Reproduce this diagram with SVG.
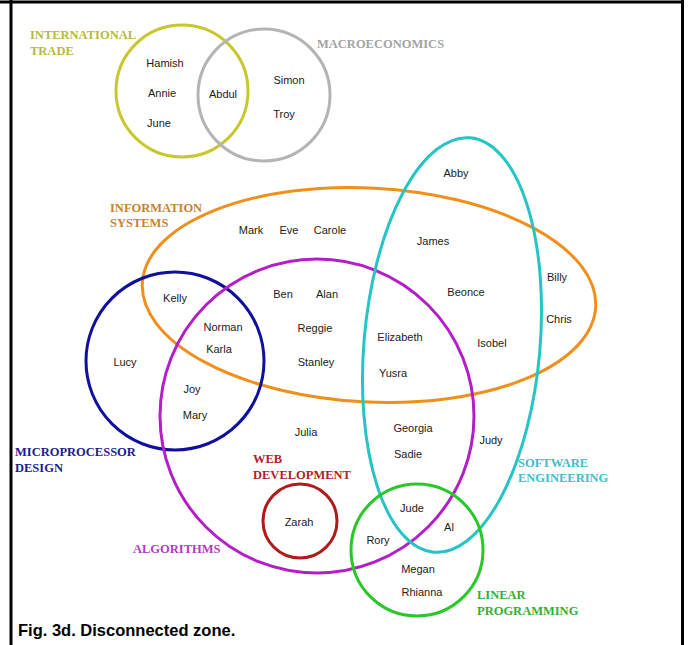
<svg xmlns="http://www.w3.org/2000/svg" width="691" height="645" viewBox="0 0 691 645">
  <style>
    .set { fill: none; stroke-width: 3; }
    .name { font-family: "Liberation Sans", Arial, sans-serif; font-size: 11px; fill: #1a1a1a; text-anchor: middle; }
    .title { font-family: "Liberation Serif", "Times New Roman", serif; font-size: 12.5px; font-weight: bold; }
    .caption { font-family: "Liberation Sans", Arial, sans-serif; font-size: 16.5px; font-weight: bold; fill: #000; }
    .frame { fill: none; stroke: #000; stroke-width: 3; }
  </style>
  <rect width="691" height="645" fill="#ffffff"/>

  <!-- page frame: top rule and side rules, open at the bottom -->
  <g id="frame">
    <line class="frame" x1="0" y1="2" x2="684" y2="2"/>
    <line class="frame" x1="11" y1="0" x2="11" y2="645"/>
    <line class="frame" x1="682.5" y1="0" x2="682.5" y2="645"/>
  </g>

  <!-- no connectors in this diagram -->
  <g id="connectors"/>

  <!-- set outlines -->
  <g id="international-trade">
    <circle class="set" cx="182" cy="91" r="66" stroke="#c8c82c"/>
    <text class="title" fill="#b9b93c"><tspan x="30" y="39">INTERNATIONAL</tspan><tspan x="30" y="55">TRADE</tspan></text>
  </g>
  <g id="macroeconomics">
    <circle class="set" cx="264" cy="95" r="66" stroke="#b4b4b4"/>
    <text class="title" fill="#a4a4a4" x="317" y="48">MACROECONOMICS</text>
  </g>
  <g id="information-systems">
    <ellipse class="set" cx="369" cy="295" rx="227" ry="107" transform="rotate(3 369 295)" stroke="#f0901c"/>
    <text class="title" fill="#c8822e"><tspan x="110" y="212">INFORMATION</tspan><tspan x="110" y="227">SYSTEMS</tspan></text>
  </g>
  <g id="microprocessor-design">
    <circle class="set" cx="175" cy="361" r="89" stroke="#10109c"/>
    <text class="title" fill="#1c1c90"><tspan x="15" y="456">MICROPROCESSOR</tspan><tspan x="15" y="472">DESIGN</tspan></text>
  </g>
  <g id="algorithms">
    <circle class="set" cx="317" cy="416" r="157" stroke="#b41ec8"/>
    <text class="title" fill="#b43cc0" x="133" y="553">ALGORITHMS</text>
  </g>
  <g id="software-engineering">
    <ellipse class="set" cx="452" cy="345" rx="88" ry="208" transform="rotate(5 452 345)" stroke="#26c4c4"/>
    <text class="title" fill="#3cc0c8"><tspan x="518" y="467">SOFTWARE</tspan><tspan x="518" y="482">ENGINEERING</tspan></text>
  </g>
  <g id="web-development">
    <circle class="set" cx="300" cy="521" r="37" stroke="#b01a1a"/>
    <text class="title" fill="#b02424"><tspan x="253" y="463">WEB</tspan><tspan x="253" y="479">DEVELOPMENT</tspan></text>
  </g>
  <g id="linear-programming">
    <circle class="set" cx="417" cy="550" r="66" stroke="#28c828"/>
    <text class="title" fill="#34b034"><tspan x="477" y="599">LINEAR</tspan><tspan x="477" y="615">PROGRAMMING</tspan></text>
  </g>

  <!-- members -->
  <g id="members">
    <text class="name" x="165" y="67">Hamish</text>
    <text class="name" x="162" y="97">Annie</text>
    <text class="name" x="159" y="127">June</text>
    <text class="name" x="223" y="98">Abdul</text>
    <text class="name" x="289" y="84">Simon</text>
    <text class="name" x="284" y="118">Troy</text>

    <text class="name" x="456" y="177">Abby</text>
    <text class="name" x="251" y="234">Mark</text>
    <text class="name" x="289" y="234">Eve</text>
    <text class="name" x="330" y="234">Carole</text>
    <text class="name" x="433" y="245">James</text>
    <text class="name" x="557" y="281">Billy</text>
    <text class="name" x="559" y="323">Chris</text>
    <text class="name" x="466" y="296">Beonce</text>
    <text class="name" x="492" y="347">Isobel</text>

    <text class="name" x="175" y="302">Kelly</text>
    <text class="name" x="283" y="298">Ben</text>
    <text class="name" x="327" y="298">Alan</text>
    <text class="name" x="223" y="331">Norman</text>
    <text class="name" x="219" y="353">Karla</text>
    <text class="name" x="315" y="332">Reggie</text>
    <text class="name" x="316" y="366">Stanley</text>
    <text class="name" x="400" y="341">Elizabeth</text>
    <text class="name" x="393" y="377">Yusra</text>

    <text class="name" x="125" y="366">Lucy</text>
    <text class="name" x="192" y="393">Joy</text>
    <text class="name" x="195" y="419">Mary</text>
    <text class="name" x="306" y="436">Julia</text>
    <text class="name" x="413" y="432">Georgia</text>
    <text class="name" x="408" y="458">Sadie</text>
    <text class="name" x="491" y="444">Judy</text>

    <text class="name" x="299" y="526">Zarah</text>
    <text class="name" x="412" y="512">Jude</text>
    <text class="name" x="449" y="531">Al</text>
    <text class="name" x="378" y="544">Rory</text>
    <text class="name" x="418" y="573">Megan</text>
    <text class="name" x="422" y="596">Rhianna</text>
  </g>

  <text class="caption" x="18" y="636">Fig. 3d. Disconnected zone.</text>
</svg>
